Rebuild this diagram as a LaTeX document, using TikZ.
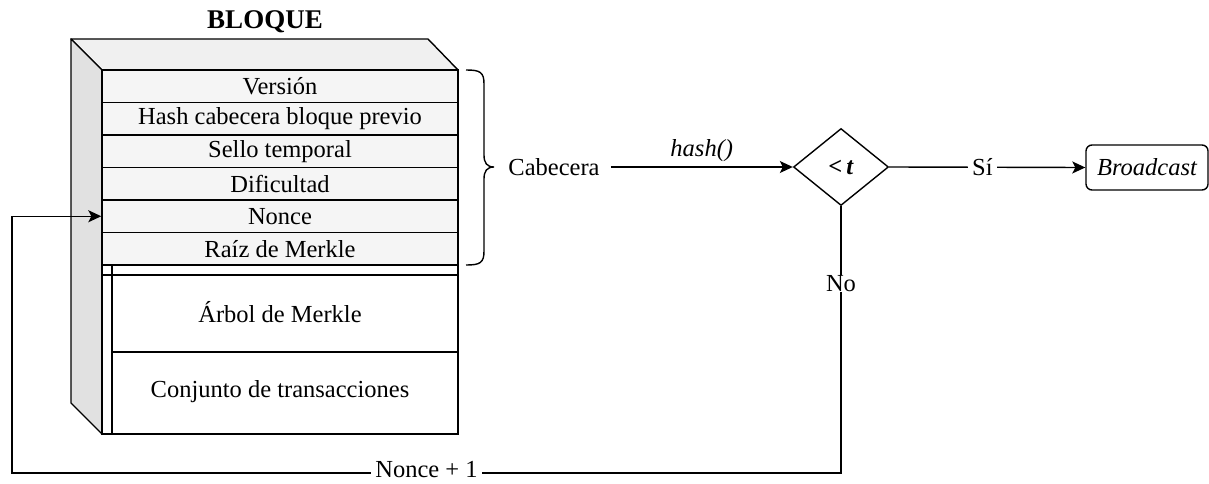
\documentclass[tikz,border=0pt]{standalone}
\usepackage{fontspec}
\setmainfont{Liberation Serif}
\usetikzlibrary{shapes.geometric,arrows.meta}
\definecolor{rowfill}{HTML}{F5F5F5}
\definecolor{topfill}{HTML}{F0F0F0}
\definecolor{sidefill}{HTML}{E1E1E1}
\begin{document}
\begin{tikzpicture}[x=1pt,y=-1pt,
  every node/.style={font=\fontsize{24.5}{28}\selectfont},
  ln/.style={line width=1.4pt, draw=black},
  arr/.style={ln, -{Stealth[length=13pt,width=12pt,inset=3pt]}},
  rowbox/.style={draw, line width=1.4pt, fill=rowfill, minimum width=356pt, minimum height=32.5pt, inner sep=0pt},
  lbl/.style={fill=white, inner xsep=4pt, inner ysep=0.5pt},
]
\useasboundingbox (0,0) rectangle (1209,484);
% title
\node[font=\fontsize{27}{30}\selectfont\bfseries] (title) at (265,22) {BLOQUE};
% 3D faces
\filldraw[ln, fill=topfill, line join=round] (71,39) -- (428,39) -- (458,70) -- (102,70) -- cycle;
\filldraw[ln, fill=sidefill, line join=round] (71,39) -- (102,70) -- (102,434) -- (71,403) -- cycle;
% header rows
\node[rowbox] (r1) at (280,86.25) {Versión};
\node[rowbox] (r2) at (280,118.75) {Hash cabecera bloque previo};
\node[rowbox] (r3) at (280,151.25) {Sello temporal};
\node[rowbox] (r4) at (280,183.75) {Dificultad};
\node[rowbox] (r5) at (280,216.25) {Nonce};
\node[rowbox] (r6) at (280,248.75) {Raíz de Merkle};
% lower body
\draw[ln, fill=white] (102,265) rectangle (458,434);
\draw[ln] (102,275) -- (458,275);
\draw[ln] (112,265) -- (112,434);
\draw[ln] (112,352) -- (458,352);
\node (arbol) at (280,312) {Árbol de Merkle};
\node (conj) at (280,392) {Conjunto de transacciones};
% brace
\draw[ln] (466,70) .. controls (480,70) and (484,72) .. (484,84) -- (484,155)
  .. controls (484,163) and (487,167) .. (494,167)
  .. controls (487,167) and (484,171) .. (484,179) -- (484,251)
  .. controls (484,263) and (480,265) .. (466,265);
% right part
\node[inner sep=0pt] (cab) at (554,167) {Cabecera};
\node[draw, line width=1.4pt, shape=diamond, minimum width=95pt, minimum height=77pt, inner sep=0pt, font=\fontsize{24.5}{28}\selectfont\bfseries] (dia) at (841,167) {<\,\textit{t}};
\node[draw, line width=1.4pt, rounded corners=6pt, minimum width=122pt, minimum height=45pt, inner sep=0pt, font=\fontsize{24.5}{28}\selectfont\itshape] (bc) at (1147,167.5) {Broadcast};
\draw[arr] ([xshift=11pt]cab.east) -- node[above=1pt, font=\fontsize{24.5}{28}\selectfont\itshape] (hl) {hash()} (dia.west);
\draw[arr] (dia.east) -- node[lbl, pos=0.475] (si) {Sí} (bc.west);
% feedback loop
\coordinate (c1) at (841,473);
\coordinate (c2) at (12,473);
\coordinate (c3) at (12,216.25);
\draw[arr] (dia.south) -- node[lbl, pos=0.29] (no) {No} (c1) -- node[lbl, pos=0.5, yshift=3pt] (n1) {Nonce + 1} (c2) -- (c3) -- (r5.west);
\end{tikzpicture}
\end{document}
